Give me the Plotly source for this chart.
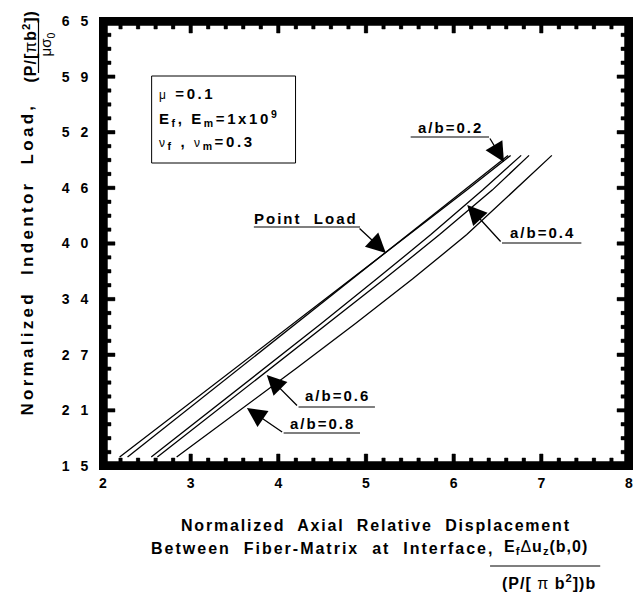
import plotly.graph_objects as go

# ---------------- data ----------------
load_levels = [16, 21, 26, 31, 36, 41, 46, 49.9]
disp_point_load = [2.19, 2.85, 3.51, 4.17, 4.83, 5.49, 6.15, 6.65]
disp_ab02 = [2.28, 2.92, 3.56, 4.20, 4.84, 5.48, 6.12, 6.62]
disp_ab04 = [2.55, 3.20, 3.85, 4.49, 5.12, 5.74, 6.33, 6.77]
disp_ab06 = [2.62, 3.27, 3.92, 4.57, 5.21, 5.84, 6.44, 6.86]
disp_ab08 = [2.84, 3.53, 4.21, 4.88, 5.53, 6.15, 6.70, 7.12]

series_names = ["Point Load", "a/b=0.2", "a/b=0.4", "a/b=0.6", "a/b=0.8"]
series_x = [disp_point_load, disp_ab02, disp_ab04, disp_ab06, disp_ab08]

# y tick labels as printed (digits spaced apart)
y_label_alias = {"15": "1\u2002\u00a05", "21.25": "2\u2002\u00a01",
                 "27.5": "2\u2002\u00a07", "33.75": "3\u2002\u00a04",
                 "40": "4\u2002\u00a00", "46.25": "4\u2002\u00a06",
                 "52.5": "5\u2002\u00a02", "58.75": "5\u2002\u00a09",
                 "65": "6\u2002\u00a05"}
x_major_step, x_minor_step = 1.0, 0.2
y_major_step, y_minor_step = 6.25, 1.5625

# ---------------- geometry helpers ----------------
W, H = 634, 592
PX0, PX1, PY0, PY1 = 103, 633, 466, 21
XR = [2, 8]
YR = [15, 65]


def dx(px):
    return XR[0] + (px - PX0) / (PX1 - PX0) * (XR[1] - XR[0])


def dy(py):
    return YR[0] + (PY0 - py) / (PY0 - PY1) * (YR[1] - YR[0])


def xpx(v):
    return PX0 + (v - XR[0]) / (XR[1] - XR[0]) * (PX1 - PX0)


def ypx(v):
    return PY0 - (v - YR[0]) / (YR[1] - YR[0]) * (PY0 - PY1)


def paperx(px):
    return (px - PX0) / (PX1 - PX0)


def papery(py):
    return (PY0 - py) / (PY0 - PY1)


FONT = "Liberation Sans, Arial, Helvetica, sans-serif"


def ls(txt, sp=1.5):
    return f"<span style='letter-spacing:{sp}px'>{txt}</span>"


fig = go.Figure()
for name, xs in zip(series_names, series_x):
    fig.add_trace(go.Scatter(x=xs, y=load_levels, mode="lines", name=name,
                             line=dict(color="black", width=1.3),
                             showlegend=False, hoverinfo="skip"))

# ---- heavy frame + inward ticks as filled black rectangles (pixel sized) ----
frame_x, frame_y = [], []
tick_x, tick_y = [], []
seg_x, seg_y = [], []


def rect_px(xs, ys, x0, y0, x1, y1):
    xs.extend([dx(x0), dx(x1), dx(x1), dx(x0), dx(x0), None])
    ys.extend([dy(y0), dy(y0), dy(y1), dy(y1), dy(y0), None])


def seg_px(x0, y0, x1, y1):
    seg_x.extend([dx(x0), dx(x1), None])
    seg_y.extend([dy(y0), dy(y1), None])


FW = 4.5  # frame thickness
rect_px(frame_x, frame_y, PX0, PY0 - FW, PX1, PY0)   # bottom
rect_px(frame_x, frame_y, PX0, PY1, PX1, PY1 + FW)   # top
rect_px(frame_x, frame_y, PX0, PY1, PX0 + FW, PY0)   # left
rect_px(frame_x, frame_y, PX1 - FW, PY1, PX1, PY0)   # right

TW = 1.7  # half tick width
n_x = int(round((XR[1] - XR[0]) / x_minor_step))
for i in range(1, n_x):
    v = XR[0] + i * x_minor_step
    major = i % int(round(x_major_step / x_minor_step)) == 0
    L = 12 if major else 8
    p = xpx(v)
    rect_px(tick_x, tick_y, p - TW, PY0, p + TW, PY0 - L)
    rect_px(tick_x, tick_y, p - TW, PY1, p + TW, PY1 + L)
    seg_px(p, PY0, p, PY0 - L)
    seg_px(p, PY1, p, PY1 + L)

n_y = int(round((YR[1] - YR[0]) / y_minor_step))
for i in range(1, n_y):
    v = YR[0] + i * y_minor_step
    major = i % int(round(y_major_step / y_minor_step)) == 0
    L = 12 if major else 8
    p = ypx(v)
    rect_px(tick_x, tick_y, PX0, p - TW, PX0 + L, p + TW)
    rect_px(tick_x, tick_y, PX1, p - TW, PX1 - L, p + TW)
    seg_px(PX0, p, PX0 + L, p)
    seg_px(PX1, p, PX1 - L, p)

fig.add_trace(go.Scatter(x=frame_x, y=frame_y, mode="lines", fill="toself",
                         fillcolor="black",
                         line=dict(color="black", width=0.5, simplify=False),
                         showlegend=False, hoverinfo="skip"))
fig.add_trace(go.Scatter(x=tick_x, y=tick_y, mode="lines", fill="toself",
                         fillcolor="black",
                         line=dict(color="black", width=0.5, simplify=False),
                         showlegend=False, hoverinfo="skip"))
fig.add_trace(go.Scatter(x=seg_x, y=seg_y, mode="lines",
                         line=dict(color="black", width=3, simplify=False),
                         showlegend=False, hoverinfo="skip"))

tick_font = dict(family=FONT, size=14, color="black", weight="bold")

fig.update_xaxes(range=XR, tickmode="linear", tick0=XR[0], dtick=x_major_step,
                 showgrid=False, zeroline=False, showline=True,
                 linecolor="black", linewidth=4, mirror=True,
                 ticks="", tickfont=tick_font, ticklabelstandoff=1)
fig.update_yaxes(range=YR, tickmode="linear", tick0=YR[0], dtick=y_major_step,
                 labelalias=y_label_alias,
                 showgrid=False, zeroline=False, showline=True,
                 linecolor="black", linewidth=4, mirror=True,
                 ticks="", tickfont=tick_font, ticklabelstandoff=8)

ann = []
shapes = []

# legend/parameter box
shapes.append(dict(type="rect", xref="x", yref="y", x0=dx(152), x1=dx(297),
                   y0=dy(163), y1=dy(76), line=dict(color="black", width=1)))
greek = "<span style='font-size:12px;font-weight:normal'>{}</span>"
box_lines = [
    (93, greek.format("μ") + " =0.1"),
    (118, "E<sub>f</sub>, E<sub>m</sub>=1x10<sup>9</sup>"),
    (142, greek.format("ν") + "<sub>f</sub> , " + greek.format("ν") + "<sub>m</sub>=0.3"),
]
for py, t in box_lines:
    ann.append(dict(xref="x", yref="y", x=dx(157), y=dy(py), text=ls(t, 2.6),
                    showarrow=False, xanchor="left", yanchor="middle",
                    font=dict(family=FONT, size=15, color="black", weight="bold")))

labels = [
    ("Point  Load", 308, 218, 255, 362, 227, 360, 227, 388, 253),
    ("a/b=0.2", 453, 127, 413, 492, 137, 492, 137, 507, 162),
    ("a/b=0.4", 546, 232, 505, 585, 243, 505, 243, 470, 205),
    ("a/b=0.6", 339, 395, 300, 377, 407, 300, 407, 268, 375),
    ("a/b=0.8", 324, 423, 285, 362, 433, 285, 433, 248, 408),
]
for t, cx, cy, ux0, ux1, uy, tx, ty, hx, hy in labels:
    ann.append(dict(xref="x", yref="y", x=dx(cx), y=dy(cy), text=ls(t, 2),
                    showarrow=False, xanchor="center", yanchor="middle",
                    font=dict(family=FONT, size=15, color="black", weight="bold")))
    shapes.append(dict(type="line", xref="x", yref="y", x0=dx(ux0), x1=dx(ux1),
                       y0=dy(uy), y1=dy(uy), line=dict(color="black", width=1.2)))
    ann.append(dict(xref="x", yref="y", axref="x", ayref="y", x=dx(hx), y=dy(hy),
                    ax=dx(tx), ay=dy(ty), text="", showarrow=True, arrowhead=2,
                    arrowsize=3, arrowwidth=1.3, arrowcolor="black"))

tfont = dict(family=FONT, size=16, color="black", weight="bold")
ann.append(dict(xref="paper", yref="paper", x=paperx(26), y=papery(259),
                text=ls("Normalized  Indentor  Load,", 3.3), textangle=-90,
                showarrow=False, xanchor="center", yanchor="middle",
                font=dict(family=FONT, size=17, color="black", weight="bold")))
ann.append(dict(xref="paper", yref="paper", x=paperx(29), y=papery(46),
                text=ls("(P/[<span style='font-weight:normal'>π</span>b<sup>2</sup>])", 1),
                textangle=-90, showarrow=False, xanchor="center", yanchor="middle",
                font=tfont))
shapes.append(dict(type="line", xref="paper", yref="paper", x0=paperx(38),
                   x1=paperx(38), y0=papery(20), y1=papery(73),
                   line=dict(color="black", width=1.2)))
ann.append(dict(xref="paper", yref="paper", x=paperx(47), y=papery(44),
                text="<span style='font-weight:normal'>μσ</span><sub>0</sub>",
                textangle=-90, showarrow=False, xanchor="center", yanchor="middle",
                font=dict(family=FONT, size=15, color="black")))

ann.append(dict(xref="paper", yref="paper", x=paperx(378), y=papery(525),
                text=ls("Normalized  Axial  Relative  Displacement", 1.8),
                showarrow=False, xanchor="center", yanchor="middle", font=tfont))
ann.append(dict(xref="paper", yref="paper", x=paperx(324), y=papery(548),
                text=ls("Between  Fiber-Matrix  at  Interface,", 2.0),
                showarrow=False, xanchor="center", yanchor="middle", font=tfont))
ann.append(dict(xref="paper", yref="paper", x=paperx(549), y=papery(547),
                text=ls("E<sub>f</sub><span style='font-weight:normal'>Δ</span>u<sub>z</sub>(b,0)", 1),
                showarrow=False, xanchor="center", yanchor="middle", font=tfont))
shapes.append(dict(type="line", xref="paper", yref="paper", x0=paperx(493),
                   x1=paperx(604), y0=papery(566), y1=papery(566),
                   line=dict(color="black", width=1.2)))
ann.append(dict(xref="paper", yref="paper", x=paperx(552), y=papery(582),
                text=ls("(P/[ <span style='font-weight:normal'>π</span> b<sup>2</sup>])b", 1),
                showarrow=False, xanchor="center", yanchor="middle", font=tfont))

fig.update_layout(
    width=W, height=H,
    margin=dict(l=PX0, r=W - PX1, t=PY1, b=H - PY0),
    paper_bgcolor="white", plot_bgcolor="white",
    showlegend=False, annotations=ann, shapes=shapes,
    font=dict(family=FONT, color="black"),
)

fig.write_html("out.html")
